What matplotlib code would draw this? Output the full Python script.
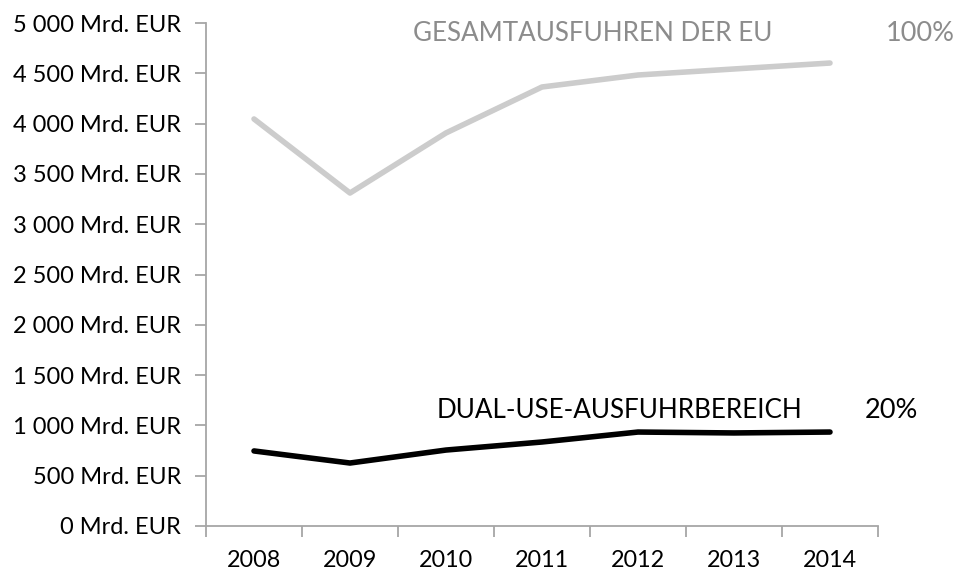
import matplotlib
matplotlib.use("Agg")
import matplotlib.pyplot as plt
from matplotlib.ticker import FixedLocator, FuncFormatter

# data
years = ["2008", "2009", "2010", "2011", "2012", "2013", "2014"]
total_exports = [4046, 3310, 3907, 4364, 4483, 4543, 4602]
dual_use = [746, 626, 755, 835, 934, 925, 934]
total_label = "GESAMTAUSFUHREN DER EU"
dual_label = "DUAL-USE-AUSFUHRBEREICH"
total_share = "100%"
dual_share = "20%"

plt.rcParams["font.family"] = ["Lato", "DejaVu Sans"]

fig = plt.figure(figsize=(9.62, 5.74), dpi=100)
ax = fig.add_axes([206/962, 1 - 526/574, 672/962, 503/574])

x = list(range(len(years)))
ax.plot(x, total_exports, color="#cccccc", lw=4, solid_capstyle="round", solid_joinstyle="round")
ax.plot(x, dual_use, color="black", lw=4, solid_capstyle="round", solid_joinstyle="round")

ax.set_xlim(-0.5, len(years) - 0.5)
ax.set_ylim(0, 5000)

# category axis: labels in the middle, tick marks between categories
ax.set_xticks(x)
ax.set_xticklabels(years)
ax.xaxis.set_minor_locator(FixedLocator([i - 0.5 for i in range(len(years) + 1)]))
ax.tick_params(axis="x", which="major", length=0, pad=17, labelsize=16.8)
ax.tick_params(axis="x", which="minor", length=8, color="#a6a6a6", width=1.3)

ax.set_yticks(range(0, 5001, 500))
ax.yaxis.set_major_formatter(FuncFormatter(lambda v, p: "{:,.0f} Mrd. EUR".format(v).replace(",", " ")))
ax.tick_params(axis="y", length=8, color="#a6a6a6", width=1.3, pad=10, labelsize=17)

for side in ["top", "right"]:
    ax.spines[side].set_visible(False)
for side in ["left", "bottom"]:
    ax.spines[side].set_color("#a6a6a6")
    ax.spines[side].set_linewidth(1.3)

# series labels
ax.text(1.656, 4900, total_label, color="#8c8c8c", fontsize=18.7, va="center", ha="left")
ax.text(6.58, 4900, total_share, color="#8c8c8c", fontsize=19.5, va="center", ha="left", clip_on=False)
ax.text(1.906, 1153, dual_label, color="black", fontsize=18.7, va="center", ha="left")
ax.text(6.36, 1153, dual_share, color="black", fontsize=19.5, va="center", ha="left", clip_on=False)

fig.savefig("out.png", dpi=100)
